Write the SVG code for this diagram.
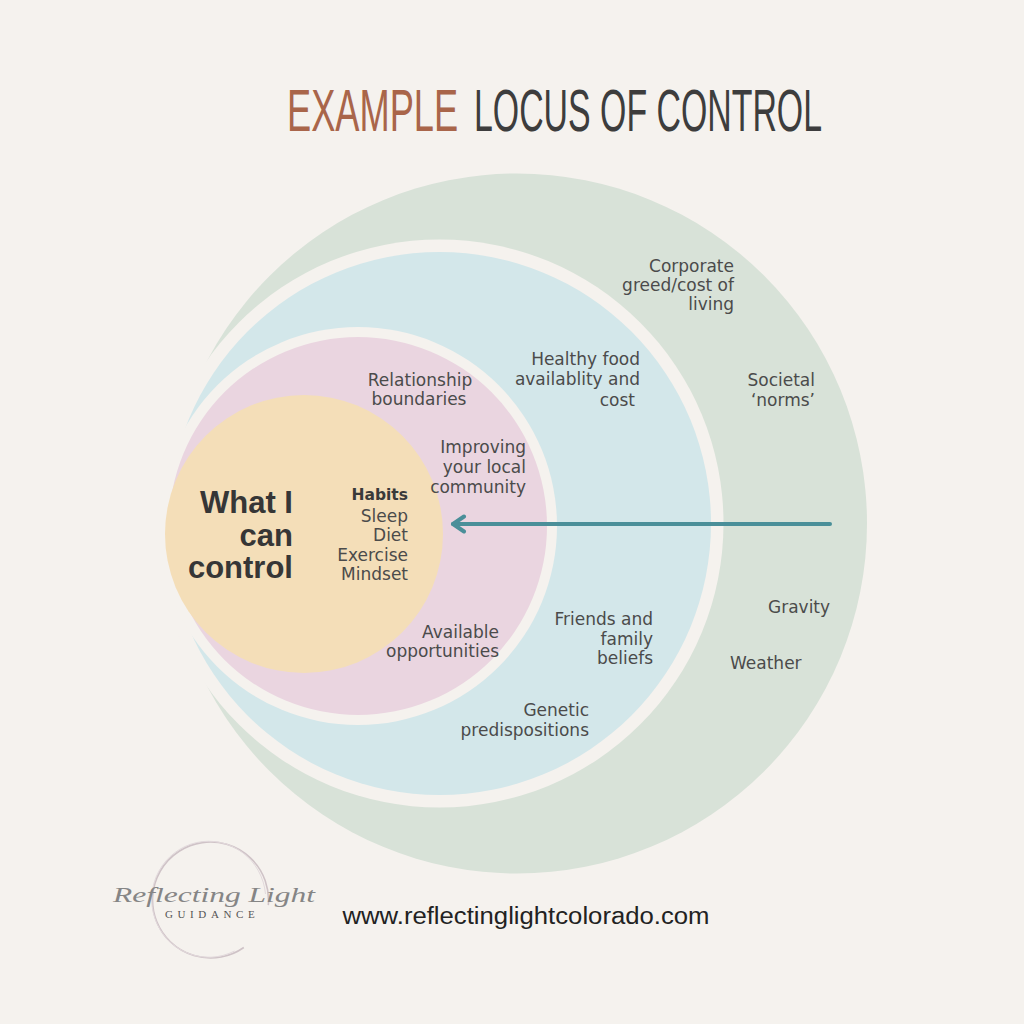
<svg xmlns="http://www.w3.org/2000/svg" width="1024" height="1024" viewBox="0 0 1024 1024">
<style>
.lbl{font-family:"DejaVu Sans",sans-serif;font-size:17px;fill:#4b4b4b}
.end{text-anchor:end}
.mid{text-anchor:middle}
.big{font-family:"Liberation Sans",Arial,sans-serif;font-weight:bold;font-size:31px;fill:#363636;text-anchor:end}
.hab{font-family:"DejaVu Sans",sans-serif;font-weight:bold;font-size:15.5px;fill:#3a3a3a;text-anchor:end}
.title{font-family:"Liberation Sans",Arial,sans-serif;font-size:59px}
</style>
<defs>
<marker id="chev" viewBox="0 0 20 20" refX="16" refY="10" markerWidth="20" markerHeight="20" markerUnits="userSpaceOnUse" orient="auto">
<path d="M5 2.5 L16 10 L5 17.5" fill="none" stroke="#4a8f99" stroke-width="4" stroke-linecap="round" stroke-linejoin="round"/>
</marker>
</defs>
<rect width="1024" height="1024" fill="#f5f2ee"/>

<g id="title">
<text class="title" transform="translate(287,131) scale(0.614,1)" x="0" y="0" fill="#a9654a">EXAMPLE</text>
<text class="title" transform="translate(474,131) scale(0.574,1)" x="0" y="0" fill="#3d3d3d">LOCUS OF CONTROL</text>
</g>

<g id="outer-ring">
<circle cx="517" cy="523.5" r="350" fill="#d8e2d8"/>
<circle cx="439.5" cy="523.5" r="284" fill="#f5f2ee"/>
</g>
<g id="middle-ring">
<circle cx="439.5" cy="523.5" r="271.5" fill="#d3e7ea"/>
<circle cx="358" cy="526" r="199" fill="#f5f2ee"/>
</g>
<g id="inner-ring">
<circle cx="358" cy="526" r="189" fill="#ead5e0"/>
</g>
<g id="core">
<circle cx="304" cy="534" r="139" fill="#f4deb8"/>
</g>

<g id="connectors">
<line x1="830" y1="524" x2="453" y2="524" stroke="#4a8f99" stroke-width="4" stroke-linecap="round" marker-end="url(#chev)"/>
</g>

<g id="outer-labels">
<text class="lbl end" x="734" y="271.5">Corporate</text>
<text class="lbl end" x="734" y="290.5">greed/cost of</text>
<text class="lbl end" x="734" y="310">living</text>
<text class="lbl end" x="815" y="385.5">Societal</text>
<text class="lbl end" x="815" y="405.5">‘norms’</text>
<text class="lbl" x="768" y="613">Gravity</text>
<text class="lbl" x="730" y="669">Weather</text>
</g>

<g id="middle-labels">
<text class="lbl end" x="640" y="365">Healthy food</text>
<text class="lbl end" x="640" y="385">availablity and</text>
<text class="lbl end" x="635" y="405.5">cost</text>
<text class="lbl end" x="653" y="625">Friends and</text>
<text class="lbl end" x="653" y="645">family</text>
<text class="lbl end" x="653" y="664">beliefs</text>
<text class="lbl end" x="589" y="715.5">Genetic</text>
<text class="lbl end" x="589" y="735.5">predispositions</text>
</g>

<g id="inner-labels">
<text class="lbl mid" x="420" y="385.5">Relationship</text>
<text class="lbl mid" x="419" y="405">boundaries</text>
<text class="lbl end" x="526" y="453.3">Improving</text>
<text class="lbl end" x="526" y="473.3">your local</text>
<text class="lbl end" x="526" y="492.7">community</text>
<text class="lbl end" x="499" y="638">Available</text>
<text class="lbl end" x="499" y="657">opportunities</text>
</g>

<g id="core-labels">
<text class="big" x="293" y="513">What I</text>
<text class="big" x="293" y="545.5">can</text>
<text class="big" x="293" y="578">control</text>
<text class="hab" x="408" y="500">Habits</text>
<text class="lbl end" x="408" y="521.5">Sleep</text>
<text class="lbl end" x="408" y="541">Diet</text>
<text class="lbl end" x="408" y="560.5">Exercise</text>
<text class="lbl end" x="408" y="580">Mindset</text>
</g>

<g id="logo">
<path d="M243.8 947.5 A58 58 0 1 1 268.3 905.1" fill="none" stroke="#cfc3c7" stroke-width="1.6"/>
<path d="M236 952 A57 58 0 1 1 267 895" fill="none" stroke="#e2d9dc" stroke-width="1" transform="translate(-1.5,-1)"/>
<text x="113" y="902" textLength="202" lengthAdjust="spacingAndGlyphs" font-family="'Liberation Serif',serif" font-style="italic" font-size="21" fill="#858585">Reflecting Light</text>
<text x="165" y="918" font-family="'Liberation Serif',serif" font-size="11" letter-spacing="4.6" fill="#555">GUIDANCE</text>
</g>

<g id="url">
<text x="342.5" y="924.3" textLength="367" lengthAdjust="spacingAndGlyphs" font-family="'Liberation Sans',Arial,sans-serif" font-size="23" fill="#222">www.reflectinglightcolorado.com</text>
</g>
</svg>
